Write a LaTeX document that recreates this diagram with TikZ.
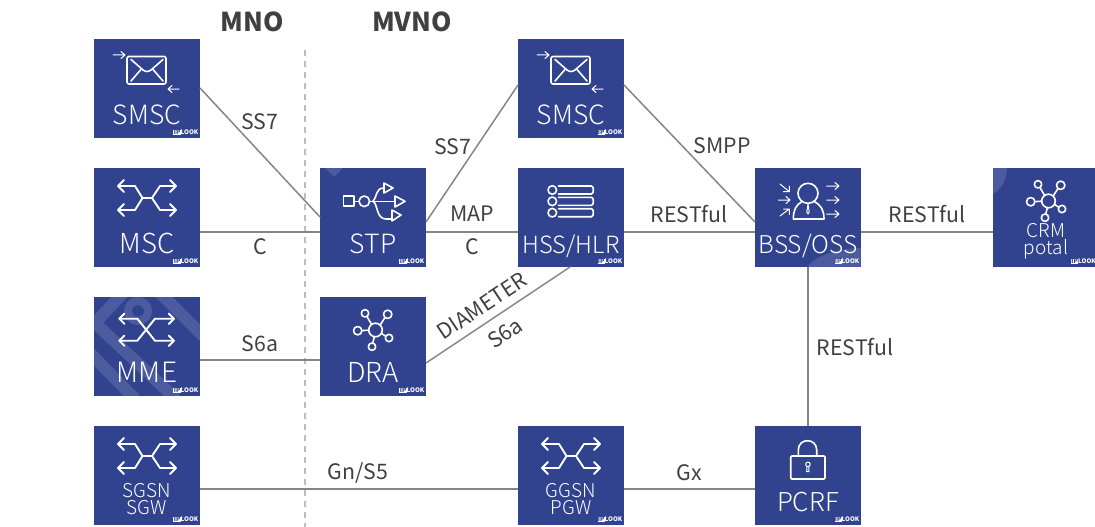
\documentclass[tikz,border=0pt]{standalone}
\usepackage{fontspec}
\setmainfont{Noto Sans CJK SC}[UprightFont={* Light},BoldFont={* Bold}]
\newfontfamily\regfont{Noto Sans CJK SC}
\usetikzlibrary{calc}
\definecolor{boxblue}{HTML}{31438F}
\definecolor{linegray}{HTML}{858585}
\definecolor{labgray}{HTML}{404040}
\definecolor{dashgray}{HTML}{BDBDBD}
\tikzset{
  boxnode/.style={rectangle,fill=boxblue,minimum width=106pt,minimum height=99pt,inner sep=0pt,outer sep=0pt},
  boxtext/.style={text=white,anchor=base,inner sep=0pt,font=\fontsize{26.5}{26.5}\selectfont},
  smalltext/.style={text=white,anchor=base,inner sep=0pt,align=center,font=\fontsize{19}{17}\selectfont},
  logotext/.style={text=white,anchor=south east,inner sep=0pt,font=\fontsize{6.2}{6.2}\regfont\bfseries},
  link/.style={draw=linegray,line width=1.5pt},
  lab/.style={text=labgray,inner sep=0pt,font=\fontsize{21.3}{21.3}\regfont},
  head/.style={text=labgray,inner sep=0pt,font=\fontsize{26}{26}\regfont\bfseries},
  ic/.style={draw=white,line width=1.6pt,line cap=round,line join=round},
  thin ic/.style={ic,line width=1pt},
  wm/.style={draw=white,draw opacity=.13,line cap=butt},
  wmfill/.style={fill=white,fill opacity=.13},
  envelope/.pic={
    \draw[ic,rounded corners=2pt] (33,17.5) rectangle (72,45);
    \draw[ic] (37,20.5) -- (49,31) .. controls (52,33) and (54,33) .. (57,31) -- (69,20.5);
    \draw[ic] (37,42) -- (47,30.5) (69,42) -- (59,30.5);
    \draw[thin ic] (19,16) -- (31,16) (27,12.5) -- (31,16) -- (27,19.5);
    \draw[thin ic] (85,50) -- (74,50) (78,46.5) -- (74,50) -- (78,53.5);
  },
  crossing/.pic={
    \draw[ic,line width=1.9pt] (24,18) -- (41,18) -- (48.5,30) -- (58,30) -- (66,18) -- (82,18);
    \draw[ic,line width=1.9pt] (24,42) -- (41,42) -- (48.5,30) (58,30) -- (66,42) -- (82,42);
    \draw[ic,line width=1.9pt] (30,12) -- (24,18) -- (30,24) (30,36) -- (24,42) -- (30,48);
    \draw[ic,line width=1.9pt] (76,12) -- (82,18) -- (76,24) (76,36) -- (82,42) -- (76,48);
  },
  xcross/.pic={
    \draw[ic,line width=1.9pt] (25.3,21.7) -- (43.3,21.7) -- (61,43.7) -- (80,43.7);
    \draw[ic,line width=1.9pt] (25.3,43.7) -- (43.3,43.7) -- (61,21.7) -- (80,21.7);
    \draw[ic,line width=1.9pt] (30.5,16.5) -- (25.3,21.7) -- (30.5,26.9) (30.5,38.5) -- (25.3,43.7) -- (30.5,48.9);
    \draw[ic,line width=1.9pt] (74.8,16.5) -- (80,21.7) -- (74.8,26.9) (74.8,38.5) -- (80,43.7) -- (74.8,48.9);
  },
  usbicon/.pic={
    \draw[ic] (23.5,28) rectangle (34,38);
    \draw[ic] (44.3,33.3) circle (5.3);
    \draw[ic] (34,33.3) -- (39,33.3) (49.6,33.3) -- (75,33.3);
    \draw[ic] (75,28) -- (85,33.3) -- (75,39) -- cycle;
    \draw[ic] (64,15) -- (73,20) -- (64,25) -- cycle;
    \draw[ic] (72,42) -- (81,47) -- (72,53) -- cycle;
    \draw[ic] (53,33.3) .. controls (57,30) and (55,20) .. (64,20);
    \draw[ic] (53,33.3) .. controls (58,36) and (56,51) .. (66,51) -- (72,51);
  },
  listicon/.pic={
    \foreach \yy/\ya/\yb in {22/18/26,33.3/29.3/37.3,44.7/40.7/48.7}{
      \draw[ic] (34.3,\yy) circle (4.3);
      \draw[ic] (40.5,\ya) -- (73.5,\ya) .. controls (76,\ya) and (76,\yb) .. (73.5,\yb) -- (40.5,\yb);
    }
  },
  hubicon/.pic={
    \draw[ic] (55.5,33) circle (6.8);
    \draw[ic] (45,16.3) circle (3.7);
    \draw[ic] (67.7,17.3) circle (4.2);
    \draw[ic] (37.7,33.7) circle (4.2);
    \draw[ic] (69,41) circle (3.7);
    \draw[ic] (52,49.7) circle (3.7);
    \draw[ic] (47,19.6) -- (51.6,27.4) (64.9,20.6) -- (60.2,28) (41.9,33.6) -- (48.7,33.2);
    \draw[ic] (65.9,39.3) -- (61.5,36.5) (52.8,46) -- (54.3,39.7);
  },
  personicon/.pic={
    \draw[ic] (53,25.3) circle (10);
    \draw[ic] (59,33.5) .. controls (66,37) and (69,42) .. (69,51) -- (38.3,51) .. controls (38.3,42) and (41,37) .. (47,33.5);
    \draw[thin ic] (53,36) -- (51.8,44) -- (53,46) -- (54.2,44) -- cycle;
    \draw[thin ic] (71.7,18) -- (84,18) (80,14.5) -- (84,18) -- (80,21.5);
    \draw[thin ic] (71.7,32) -- (84,32) (80,28.5) -- (84,32) -- (80,35.5);
    \draw[thin ic] (71.7,46) -- (84,46) (80,42.5) -- (84,46) -- (80,49.5);
    \draw[thin ic] (25,16) -- (34.3,23.7) (34.3,18) -- (34.3,23.7) -- (28.5,23.7);
    \draw[thin ic] (23.3,32) -- (35,32) (31,28.5) -- (35,32) -- (31,35.5);
    \draw[thin ic] (25,48) -- (34.3,41) (34.3,46.5) -- (34.3,41) -- (28.5,41);
  },
  lockicon/.pic={
    \draw[ic,rounded corners=1pt] (35.7,30) rectangle (70,53);
    \draw[ic] (43.3,30) -- (43.3,24) .. controls (43.3,11.6) and (61.7,11.6) .. (61.7,24) -- (61.7,30);
    \draw[thin ic] (52.9,38.3) circle (2.3);
    \draw[thin ic] (51.9,40.5) -- (51.7,45.7) -- (54,45.7) -- (53.8,40.5);
  },
}
\newcommand{\logotxt}{\setlength{\fboxsep}{.4pt}\colorbox{white}{\textcolor{boxblue}{IP}}LOOK}
% name, left, top, icon, label style, label
\newcommand{\unitbox}[6]{%
  \node[boxnode,anchor=north west] (#1) at (#2,#3) {};
  \pic at (#1.north west) {#4};
  \node[#5] (#1text) at ($(#1.north west)+(53,85.7)$) {#6};
  \node[logotext] (#1logo) at ($(#1.north west)+(104.5,96.5)$) {\logotxt};
}
\begin{document}
\begin{tikzpicture}[x=1pt,y=-1pt]
\useasboundingbox (0,0) rectangle (1095,527);
\coordinate (dashtop) at (305,50);
\coordinate (dashbot) at (305,527);
\draw[draw=dashgray,line width=1.5pt,dash pattern=on 6pt off 5pt] (dashtop) -- (dashbot);

\unitbox{smscA}{94}{39}{envelope}{boxtext}{SMSC}
\unitbox{msc}{94}{168}{crossing}{boxtext,font=\fontsize{27.5}{27.5}\selectfont}{MSC}
\unitbox{mme}{94}{297}{xcross}{boxtext,font=\fontsize{28}{28}\selectfont}{MME}
\unitbox{stp}{320}{168}{usbicon}{boxtext}{STP}
\unitbox{dra}{320}{297}{hubicon}{boxtext,font=\fontsize{27.5}{27.5}\selectfont}{DRA}
\unitbox{smscB}{518}{39}{envelope}{boxtext}{SMSC}
\unitbox{hss}{518}{168}{listicon}{boxtext,font=\fontsize{23.7}{23.7}\selectfont}{HSS/HLR}
\unitbox{bss}{755}{168}{personicon}{boxtext,font=\fontsize{24.5}{24.5}\selectfont}{BSS/OSS}
\unitbox{pcrf}{755}{426}{lockicon}{boxtext,font=\fontsize{26}{26}\selectfont}{PCRF}
\node[boxnode,anchor=north west,minimum width=102pt] (crm) at (993,168) {};
\pic at (crm.north west) {hubicon};
\node[smalltext,anchor=center] (crmtext) at (1046,241) {CRM\\potal};
\node[logotext] (crmlogo) at ($(crm.north west)+(103,96.5)$) {\logotxt};
\node[boxnode,anchor=north west] (sgsn) at (94,426) {};
\pic at (sgsn.north west) {crossing};
\node[smalltext,anchor=center] (sgsntext) at (147,499) {SGSN\\SGW};
\node[logotext] (sgsnlogo) at ($(sgsn.north west)+(104.5,96.5)$) {\logotxt};
\node[boxnode,anchor=north west] (ggsn) at (518,426) {};
\pic at (ggsn.north west) {crossing};
\node[smalltext,anchor=center] (ggsntext) at (571,499) {GGSN\\PGW};
\node[logotext] (ggsnlogo) at ($(ggsn.north west)+(104.5,96.5)$) {\logotxt};

% pale watermark overlays, clipped to their boxes
\begin{scope}[shift={(mme.north west)}]
  \clip (0,0) rectangle (106,99);
  \draw[wm,line width=12pt,line join=miter] (29,-4) -- (1,26) -- (82,102);
  \draw[wm,line width=12pt] (66,-4) -- (110,40);
  \draw[wm,line width=12pt] (-4,56) -- (41,102);
  \draw[wm,line width=8pt] (44,14) circle (10);
\end{scope}
\begin{scope}[shift={(stp.north west)}]
  \clip (0,0) rectangle (106,99);
  \fill[wmfill] (5,0) -- (23,0) -- (14,9) -- cycle;
\end{scope}
\begin{scope}[shift={(crm.north west)}]
  \clip (0,0) rectangle (102,99);
  \fill[wmfill] (0,0) -- (14,0) .. controls (14,12) and (8,22) .. (0,26) -- cycle;
\end{scope}
\begin{scope}[shift={(bss.north west)}]
  \clip (0,0) rectangle (106,99);
  \fill[wmfill] (53,99) .. controls (58,88) and (85,80) .. (106,80) -- (106,99) -- cycle;
\end{scope}

\draw[link] ($(smscA.north east)+(0,49)$) -- ($(stp.north west)+(0,49)$);
\draw[link] ($(msc.north east)+(0,64)$) -- ($(stp.north west)+(0,64)$);
\draw[link] ($(stp.north east)+(0,54)$) -- ($(smscB.north west)+(0,46)$);
\draw[link] ($(stp.north east)+(0,64)$) -- ($(hss.north west)+(0,64)$);
\draw[link] ($(smscB.north east)+(0,46)$) -- ($(bss.north west)+(0,54)$);
\draw[link] ($(hss.north east)+(0,64)$) -- ($(bss.north west)+(0,64)$);
\draw[link] ($(bss.north east)+(0,64)$) -- ($(crm.north west)+(0,64)$);
\draw[link] ($(mme.north east)+(0,63)$) -- ($(dra.north west)+(0,63)$);
\draw[link] ($(dra.north east)+(0,66)$) -- ($(hss.south west)+(52,0)$);
\draw[link] ($(bss.south west)+(53,0)$) -- ($(pcrf.north west)+(53,0)$);
\draw[link] ($(sgsn.north east)+(0,63)$) -- ($(ggsn.north west)+(0,63)$);
\draw[link] ($(ggsn.north east)+(0,63)$) -- ($(pcrf.north west)+(0,63)$);

\node[head] (mno) at (252,22) {MNO};
\node[head] (mvno) at (412,22) {MVNO};
\node[lab] (l1) at (260,122) {SS7};
\node[lab] (l2) at (260,247) {C};
\node[lab] (l3) at (260,344) {S6a};
\node[lab] (l4) at (358,473) {Gn/S5};
\node[lab] (l5) at (453,147) {SS7};
\node[lab] (l6) at (472,214) {MAP};
\node[lab] (l7) at (472,247) {C};
\node[lab] (l8) at (689,214) {RESTful};
\node[lab] (l9) at (722,146) {SMPP};
\node[lab] (l10) at (927,214) {RESTful};
\node[lab] (l11) at (855,347) {RESTful};
\node[lab] (l12) at (689,473) {Gx};
\node[lab,rotate=33.7] (l13) at (482,306) {DIAMETER};
\node[lab,rotate=33.7] (l14) at (505,333) {S6a};
\end{tikzpicture}
\end{document}
